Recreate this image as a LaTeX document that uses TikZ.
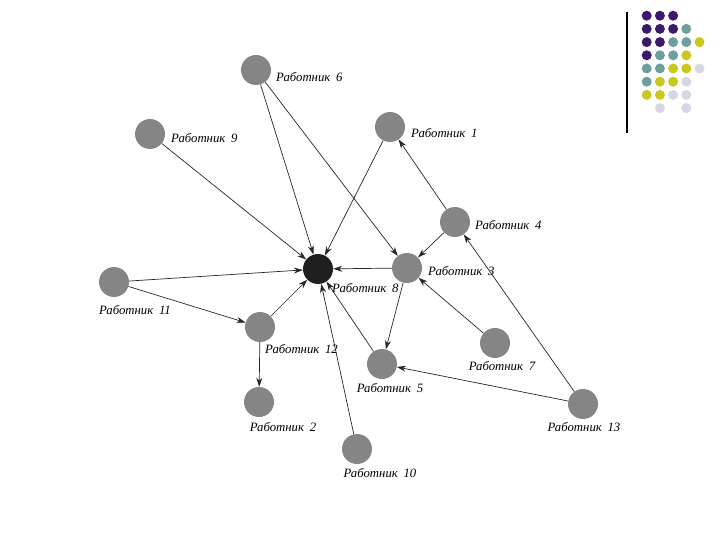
\documentclass[tikz,border=0pt]{standalone}
\usepackage{fontspec}
\setmainfont{Liberation Serif}
\usetikzlibrary{arrows.meta}
\definecolor{nodegray}{HTML}{858585}
\definecolor{dpurple}{HTML}{3B1A6B}
\definecolor{dteal}{HTML}{6E9E9E}
\definecolor{dyellow}{HTML}{C9C81E}
\definecolor{dlav}{HTML}{D6D6E4}
\tikzset{
  worker/.style={circle,fill=nodegray,minimum size=30bp,inner sep=0pt},
  center/.style={circle,fill=black!88,minimum size=30bp,inner sep=0pt},
  lbl/.style={font=\fontsize{12.8}{15}\selectfont\itshape,inner sep=0pt},
  link/.style={-{Stealth[length=9bp,width=6bp]},line width=0.7bp,black!85},
  dot/.style={circle,minimum size=10bp,inner sep=0pt},
}
\newcommand{\wk}[1]{Работник\hspace{0.45em}#1}
\begin{document}
\begin{tikzpicture}[x=1bp,y=-1bp]
\useasboundingbox (0,0) rectangle (720,540);
% decoration
\coordinate (vtop) at (627,12);
\coordinate (vbot) at (627,133);
\draw[line width=1.2bp] (vtop) -- (vbot);
\foreach \c/\r/\col in {1/1/dpurple,2/1/dpurple,3/1/dpurple,
  1/2/dpurple,2/2/dpurple,3/2/dpurple,4/2/dteal,
  1/3/dpurple,2/3/dpurple,3/3/dteal,4/3/dteal,5/3/dyellow,
  1/4/dpurple,2/4/dteal,3/4/dteal,4/4/dyellow,
  1/5/dteal,2/5/dteal,3/5/dyellow,4/5/dyellow,5/5/dlav,
  1/6/dteal,2/6/dyellow,3/6/dyellow,4/6/dlav,
  1/7/dyellow,2/7/dyellow,3/7/dlav,4/7/dlav,
  2/8/dlav,4/8/dlav}
  \node[dot,fill=\col] (d\c\r) at ({633.5+13.2*\c},{2.5+13.2*\r}) {};
% nodes
\node[worker] (w6) at (256,70) {};
\node[worker] (w9) at (150,134) {};
\node[worker] (w1) at (390,127) {};
\node[worker] (w4) at (455,222) {};
\node[center] (w8) at (318,269) {};
\node[worker] (w3) at (407,268) {};
\node[worker] (w11) at (114,282) {};
\node[worker] (w12) at (260,327) {};
\node[worker] (w7) at (495,343) {};
\node[worker] (w5) at (382,364) {};
\node[worker] (w2) at (259,402) {};
\node[worker] (w13) at (583,404) {};
\node[worker] (w10) at (357,449) {};
% labels
\node[lbl,anchor=west] (l6) at (276,77) {\wk{6}};
\node[lbl,anchor=west] (l9) at (171,138) {\wk{9}};
\node[lbl,anchor=west] (l1) at (411,133) {\wk{1}};
\node[lbl,anchor=west] (l4) at (475,225) {\wk{4}};
\node[lbl,anchor=west] (l3) at (428,271) {\wk{3}};
\node[lbl,anchor=west] (l8) at (332,288) {\wk{8}};
\node[lbl] (l11) at (135,310) {\wk{11}};
\node[lbl,anchor=west] (l12) at (265,349) {\wk{12}};
\node[lbl] (l2) at (283,427) {\wk{2}};
\node[lbl] (l5) at (390,388) {\wk{5}};
\node[lbl] (l7) at (502,366) {\wk{7}};
\node[lbl] (l13) at (584,427) {\wk{13}};
\node[lbl] (l10) at (380,473) {\wk{10}};
% links
\draw[link] (w6) -- (w8);
\draw[link] (w6) -- (w3);
\draw[link] (w9) -- (w8);
\draw[link] (w1) -- (w8);
\draw[link] (w4) -- (w1);
\draw[link] (w4) -- (w3);
\draw[link] (w3) -- (w8);
\draw[link] (w3) -- (w5);
\draw[link] (w7) -- (w3);
\draw[link] (w13) -- (w4);
\draw[link] (w13) -- (w5);
\draw[link] (w5) -- (w8);
\draw[link] (w10) -- (w8);
\draw[link] (w12) -- (w8);
\draw[link] (w11) -- (w8);
\draw[link] (w11) -- (w12);
\draw[link] (w12) -- (w2);
\end{tikzpicture}
\end{document}
